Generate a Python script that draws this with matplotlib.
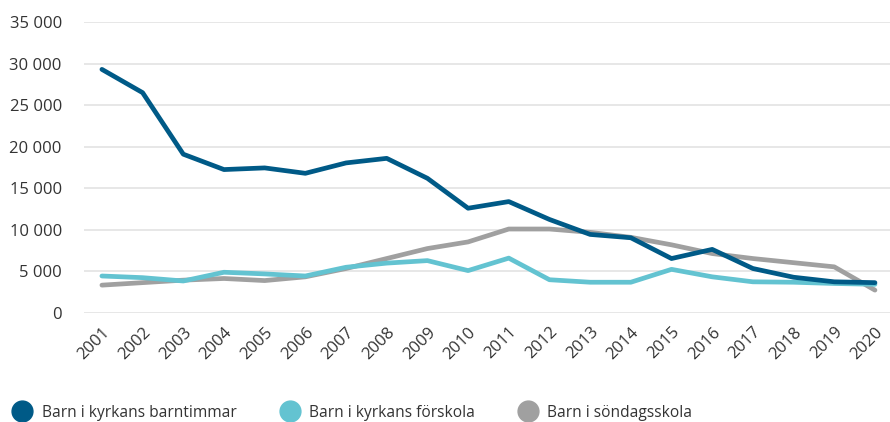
import matplotlib
matplotlib.use("Agg")
import matplotlib.pyplot as plt
from matplotlib.lines import Line2D
from matplotlib.ticker import FuncFormatter

years = list(range(2001, 2021))

barntimmar = [29300, 26500, 19100, 17250, 17450, 16800, 18050, 18600, 16200, 12600,
              13400, 11250, 9450, 9050, 6550, 7650, 5350, 4300, 3750, 3650]
forskola = [4450, 4250, 3850, 4900, 4700, 4450, 5500, 6000, 6300, 5100,
            6600, 4000, 3700, 3700, 5250, 4350, 3750, 3700, 3550, 3450]
sondagsskola = [3350, 3650, 3950, 4150, 3900, 4350, 5350, 6550, 7750, 8550,
                10100, 10100, 9700, 9100, 8200, 7150, 6550, 6050, 5550, 2750]

labels = ["Barn i kyrkans barntimmar", "Barn i kyrkans förskola", "Barn i söndagsskola"]
colors = ["#005a87", "#63c3d1", "#a0a0a0"]

plt.rcParams["font.family"] = ["Open Sans", "DejaVu Sans"]

fig = plt.figure(figsize=(8.9, 4.22), dpi=100)
ax = fig.add_axes([0.0944, 0.2583, 0.9056, 0.6896])

# grey first so the coloured lines sit on top
for series, color, z in [(sondagsskola, colors[2], 2), (forskola, colors[1], 3), (barntimmar, colors[0], 4)]:
    ax.plot(years, series, color=color, linewidth=3.4, solid_capstyle="round", zorder=z)

ax.set_ylim(0, 35000)
ax.set_xlim(2000.56, 2020.37)
ax.set_yticks(range(0, 35001, 5000))
ax.yaxis.set_major_formatter(FuncFormatter(lambda v, p: f"{int(v):,}".replace(",", " ")))
ax.set_xticks(years)
ax.set_xticklabels([str(y) for y in years], rotation=45, ha="right", rotation_mode="anchor")
ax.grid(axis="y", color="#e3e3e3", linewidth=1.2)
ax.set_axisbelow(True)
for s in ax.spines.values():
    s.set_visible(False)
ax.tick_params(length=0, labelsize=12, colors="#333333", pad=8)
ax.tick_params(axis="y", pad=16)

handles = [Line2D([], [], marker="o", linestyle="none", markersize=15, color=c) for c in colors]
fig.legend(handles, labels, loc="lower left", bbox_to_anchor=(-0.008, -0.03), ncol=3, frameon=False,
           fontsize=11.2, handletextpad=0.25, columnspacing=2.4, labelcolor="#333333")

fig.savefig("out.png", dpi=100)
